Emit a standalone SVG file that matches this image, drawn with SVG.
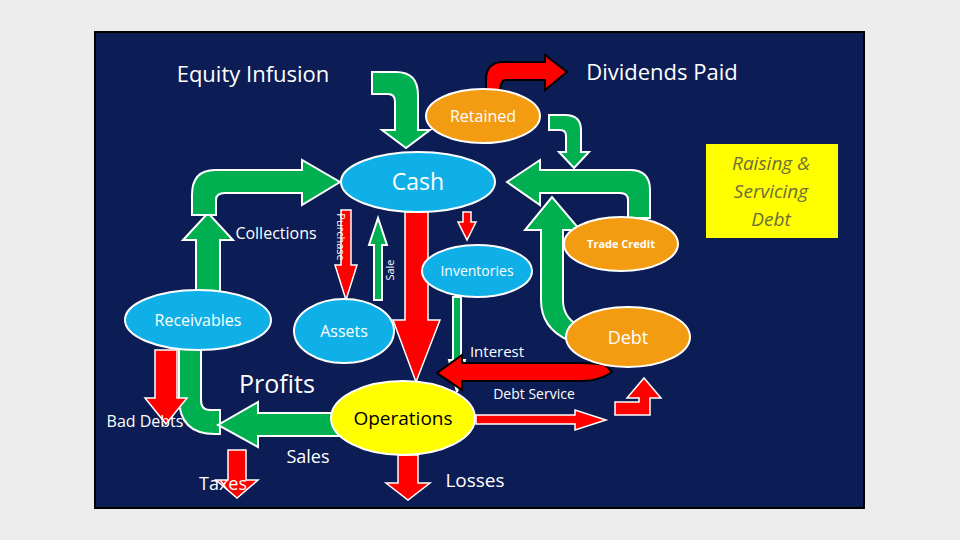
<svg xmlns="http://www.w3.org/2000/svg" width="960" height="540" viewBox="0 0 960 540">
<style>
text{font-family:"Open Sans","Liberation Sans",sans-serif;fill:#fff;text-anchor:middle}
.g{fill:#00b050;stroke:#fff;stroke-width:2}
.r{fill:#ff0000;stroke:#fff;stroke-width:1.5}
.rk{fill:#ff0000;stroke:#000;stroke-width:2}
.b{fill:#0fb0e8;stroke:#fff;stroke-width:2}
.o{fill:#f39c12;stroke:#fff;stroke-width:2}
</style>
<rect width="960" height="540" fill="#ececec"/>
<rect x="95" y="32" width="769" height="476" fill="#0c1c54" stroke="#000" stroke-width="2"/>
<g id="connectors">
<path class="g" d="M372,72 H396 Q418,72 418,95 V130 H430 L406,148 L382,130 H395 V102 Q395,94 388,94 H372 Z"/>
<path class="g" d="M549,115 H565 Q581,115 581,130 V152 H589 L574,168 L559,152 H566 V136 Q566,130 560,130 H549 Z"/>
<path class="g" d="M650,218 V190 Q650,170 630,170 H540 V160 L507,182 L540,205 V193 H620 Q628,193 628,200 V218 Z"/>
<path class="g" d="M541,230 H525 L552,197 L580,230 H563 V300 Q563,316 576,324 L568,340 Q541,328 541,300 Z"/>
<path class="g" d="M196,292 V240 H183 L208,213 L233,240 H220 V292 Z"/>
<path class="g" d="M192,215 V195 Q192,170 215,170 H302 V160 L340,182 L302,205 V193 H225 Q216,193 216,200 V215 Z"/>
<path class="g" d="M179,348 V398 Q179,434 215,434 H220 V410 H210 Q201,410 201,400 V348 Z"/>
<path class="g" d="M340,413 H258 V402 L218,425 L258,447 V436 H340 Z"/>
<path class="rk" d="M486,92 V80 Q486,62 503,62 H545 V55 L567,72 L545,90 V80 H506 Q500,80 500,92 Z"/>
<path class="r" d="M341,210 V265 H335 L346,300 L357,265 H351 V210 Z"/>
<path class="g" stroke-width="1.5" d="M374,300 V245 H369 L378,218 L387,245 H382 V300 Z"/>
<path class="r" d="M405,212 V320 H393 L416,382 L440,320 H428 V212 Z"/>
<path class="r" d="M463,212 V222 H458 L467,240 L476,222 H471 V212 Z"/>
<path class="g" stroke-width="1.5" d="M453,297 V360 H449 L457,392 L465,360 H461 V297 Z"/>
<path class="rk" d="M605,365 Q590,363 580,363 H462 V355 L437,373 L462,390 V381 H580 Q600,381 612,372 Z"/>
<path class="r" d="M476,415 H575 V410 L606,420 L575,430 V424 H476 Z"/>
<path class="r" d="M615,402 H639 V398 H627 L644,378 L661,398 H650 V415 H615 Z"/>
<path class="r" d="M155,350 V398 H145 L166,424 L187,398 H177 V350 Z"/>
<path class="r" d="M228,450 V480 H216 L237,498 L258,480 H246 V450 Z"/>
<path class="r" d="M398,455 V483 H386 L408,500 L430,483 H418 V455 Z"/>
</g>
<g id="cash"><ellipse class="b" cx="418" cy="182" rx="77" ry="30"/><text x="418" y="190" font-size="23">Cash</text></g>
<g id="retained"><ellipse class="o" cx="483" cy="116" rx="57" ry="27"/><text x="483" y="122" font-size="16">Retained</text></g>
<g id="inventories"><ellipse class="b" cx="477" cy="271" rx="55" ry="26"/><text x="477" y="276" font-size="14">Inventories</text></g>
<g id="tradecredit"><ellipse class="o" cx="621" cy="244" rx="57" ry="27"/><text x="621" y="248" font-size="11" font-weight="bold">Trade Credit</text></g>
<g id="receivables"><ellipse class="b" cx="198" cy="320" rx="73" ry="30"/><text x="198" y="326" font-size="16">Receivables</text></g>
<g id="assets"><ellipse class="b" cx="344" cy="331" rx="50" ry="32"/><text x="344" y="337" font-size="16">Assets</text></g>
<g id="debt"><ellipse class="o" cx="628" cy="337" rx="62" ry="30"/><text x="628" y="344" font-size="18">Debt</text></g>
<g id="operations"><ellipse fill="#ffff00" stroke="#fff" stroke-width="2" cx="403" cy="418" rx="72" ry="37"/><text x="403" y="425" font-size="19" style="fill:#000">Operations</text></g>
<g id="raising"><rect x="706" y="144" width="132" height="94" fill="#ffff00"/><text x="771" y="170" font-size="19" font-style="italic" style="fill:#6e6e3a">Raising &amp;</text><text x="771" y="198" font-size="19" font-style="italic" style="fill:#6e6e3a">Servicing</text><text x="771" y="226" font-size="19" font-style="italic" style="fill:#6e6e3a">Debt</text></g>
<g id="labels">
<text x="253" y="82" font-size="22">Equity Infusion</text>
<text x="662" y="80" font-size="22">Dividends Paid</text>
<text x="276" y="239" font-size="16">Collections</text>
<text transform="translate(337,237) rotate(90)" font-size="11">Purchase</text>
<text transform="translate(394,270) rotate(-90)" font-size="11">Sale</text>
<text x="497" y="357" font-size="15">Interest</text>
<text x="277" y="393" font-size="25">Profits</text>
<text x="534" y="399" font-size="14">Debt Service</text>
<text x="145" y="427" font-size="16">Bad Debts</text>
<text x="308" y="463" font-size="18">Sales</text>
<text x="223" y="490" font-size="18">Taxes</text>
<text x="475" y="487" font-size="19">Losses</text>
</g>
</svg>
